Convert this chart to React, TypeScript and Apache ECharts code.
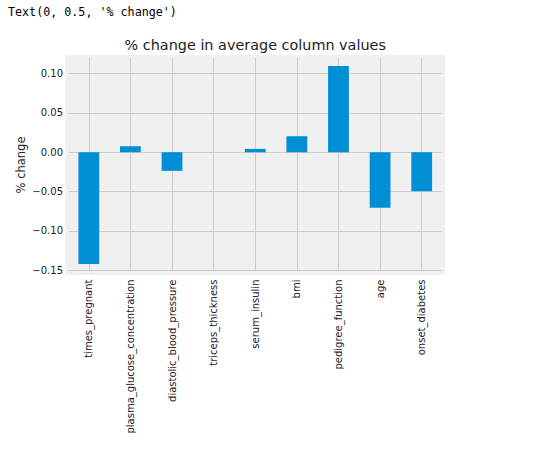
import React, { useEffect, useRef } from "react";
import * as echarts from "echarts";

const categories = [
  "times_pregnant",
  "plasma_glucose_concentration",
  "diastolic_blood_pressure",
  "triceps_thickness",
  "serum_insulin",
  "bmi",
  "pedigree_function",
  "age",
  "onset_diabetes",
];
const pctChange = [-0.142, 0.0076, -0.0237, 0.0, 0.0042, 0.0203, 0.1094, -0.0707, -0.0496];
const yTickMin = -0.15;
const yTickMax = 0.1;
const yTickStep = 0.05;
const titleText = "% change in average column values";
const yLabelText = "% change";
const outputText = "Text(0, 0.5, '% change')";

const FONT = "DejaVu Sans";
const GRID_COLOR = "#cbcbcb";

export default function App() {
  const ref = useRef<HTMLDivElement>(null);
  useEffect(() => {
    if (!ref.current) return;
    const chart = echarts.init(ref.current, null, { renderer: "svg" });
    const axesLeft = 68;
    const axesRight = 442.5;
    const axesTop = 57.5;
    const axesBottom = 272.5;
    const zeroY = 152.2;
    const pxPerUnit = 786.8;
    const dataMax = (zeroY - axesTop) / pxPerUnit;
    const dataMin = -(axesBottom - zeroY) / pxPerUnit;
    const yTop = zeroY - yTickMax * pxPerUnit;
    const yBot = zeroY - yTickMin * pxPerUnit;
    const band = (axesRight - axesLeft) / categories.length;
    chart.setOption({
      animation: false,
      backgroundColor: "#ffffff",
      textStyle: { fontFamily: FONT },
      grid: [
        {
          left: axesLeft,
          top: axesTop,
          width: axesRight - axesLeft,
          height: axesBottom - axesTop,
          show: true,
          backgroundColor: "#f0f0f0",
          borderColor: "#f0f0f0",
          borderWidth: 5,
        },
        {
          left: axesLeft + band / 2,
          top: axesTop,
          width: axesRight - axesLeft - band,
          height: axesBottom - axesTop - 1,
        },
        {
          left: axesLeft + 1,
          top: yTop,
          width: axesRight - axesLeft - 1.5,
          height: yBot - yTop,
        },
      ],
      xAxis: [
        {
          type: "category",
          gridIndex: 0,
          data: categories,
          boundaryGap: true,
          axisLine: { show: false },
          axisTick: { show: false },
          splitLine: { show: false },
          axisLabel: {
            rotate: 90,
            interval: 0,
            margin: 7,
            fontSize: 10,
            fontFamily: FONT,
            color: "#222222",
          },
        },
        {
          type: "category",
          gridIndex: 1,
          data: categories,
          boundaryGap: false,
          axisLine: { show: false },
          axisTick: { show: false },
          axisLabel: { show: false, interval: 0 },
          splitLine: { show: true, interval: 0, lineStyle: { color: GRID_COLOR, width: 1 } },
        },
        {
          type: "value",
          gridIndex: 2,
          show: false,
          min: 0,
          max: 1,
        },
      ],
      yAxis: [
        {
          type: "value",
          gridIndex: 0,
          min: dataMin,
          max: dataMax,
          show: false,
          splitLine: { show: false },
        },
        {
          type: "value",
          gridIndex: 1,
          show: false,
          min: 0,
          max: 1,
          splitLine: { show: false },
        },
        {
          type: "value",
          gridIndex: 2,
          min: yTickMin,
          max: yTickMax,
          interval: yTickStep,
          axisLine: { show: false },
          axisTick: { show: false },
          splitLine: { show: true, lineStyle: { color: GRID_COLOR, width: 1 } },
          axisLabel: {
            margin: 6,
            fontSize: 10,
            fontFamily: FONT,
            color: "#222222",
            formatter: (v: number) => {
              const s = Math.abs(v).toFixed(2);
              return v < -1e-9 ? "\u2212" + s : s;
            },
          },
        },
      ],
      series: [
        {
          type: "bar",
          xAxisIndex: 0,
          yAxisIndex: 0,
          data: pctChange,
          barWidth: "50%",
          itemStyle: { color: "#008fd5" },
          z: 5,
        },
      ],
      graphic: [
        {
          type: "text",
          x: 8,
          y: 12,
          style: {
            text: outputText,
            fontFamily: "DejaVu Sans Mono",
            fontSize: 11.7,
            fill: "#000000",
            textAlign: "left",
            textVerticalAlign: "middle",
          },
        },
        {
          type: "text",
          x: (axesLeft + axesRight) / 2,
          y: 45,
          style: {
            text: titleText,
            fontFamily: FONT,
            fontSize: 14.4,
            fill: "#222222",
            textAlign: "center",
            textVerticalAlign: "middle",
          },
        },
        {
          type: "text",
          x: 21,
          y: (axesTop + axesBottom) / 2,
          rotation: Math.PI / 2,
          style: {
            text: yLabelText,
            fontFamily: FONT,
            fontSize: 11.5,
            fill: "#222222",
            textAlign: "center",
            textVerticalAlign: "middle",
          },
        },
      ],
    });
    return () => chart.dispose();
  }, []);
  return (
    <div
      ref={ref}
      style={{ position: "absolute", left: 0, top: 0, width: 534, height: 449 }}
    />
  );
}
